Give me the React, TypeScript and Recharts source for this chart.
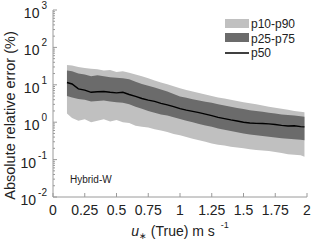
import React from 'react';
import { ComposedChart, Area, Line, XAxis, YAxis } from 'recharts';

const uStar = [0.11, 0.15, 0.2, 0.25, 0.3, 0.35, 0.4, 0.45, 0.5, 0.55, 0.6, 0.65, 0.7, 0.75, 0.8, 0.85, 0.9, 0.95, 1.0, 1.05, 1.1, 1.15, 1.2, 1.25, 1.3, 1.35, 1.4, 1.45, 1.5, 1.55, 1.6, 1.65, 1.7, 1.75, 1.8, 1.85, 1.9, 1.95, 1.98];
const p10 = [1.7, 1.3, 1.1, 1.2, 1.0, 1.1, 1.2, 1.05, 1.15, 1.0, 0.95, 0.8, 0.75, 0.72, 0.65, 0.6, 0.55, 0.48, 0.45, 0.4, 0.36, 0.33, 0.3, 0.27, 0.25, 0.24, 0.22, 0.21, 0.2, 0.19, 0.18, 0.175, 0.17, 0.16, 0.15, 0.14, 0.135, 0.13, 0.12];
const p25 = [5.0, 4.6, 4.2, 4.0, 3.6, 3.7, 3.8, 3.6, 3.4, 3.3, 3.0, 2.6, 2.3, 2.0, 1.8, 1.6, 1.5, 1.35, 1.22, 1.1, 1.0, 0.9, 0.82, 0.75, 0.68, 0.63, 0.58, 0.54, 0.5, 0.47, 0.45, 0.43, 0.41, 0.39, 0.37, 0.36, 0.35, 0.34, 0.33];
const p50 = [11.5, 10.5, 7.8, 7.2, 6.3, 6.5, 6.6, 6.3, 6.1, 6.3, 5.5, 4.9, 4.3, 3.9, 3.6, 3.2, 2.9, 2.6, 2.3, 2.1, 1.95, 1.8, 1.65, 1.5, 1.35, 1.25, 1.15, 1.08, 1.0, 0.95, 0.93, 0.92, 0.9, 0.87, 0.82, 0.79, 0.8, 0.76, 0.75];
const p75 = [24, 23, 20, 19, 17, 18, 17, 16, 15.5, 15, 14, 12, 10.5, 9.5, 8.5, 7.5, 6.6, 5.7, 4.9, 4.5, 4.1, 3.8, 3.5, 3.3, 3.0, 2.8, 2.6, 2.4, 2.25, 2.1, 2.0, 1.9, 1.8, 1.7, 1.6, 1.55, 1.5, 1.45, 1.4];
const p90 = [34, 33, 30, 28, 27, 26, 24, 25, 22, 23, 21, 19, 17, 15, 13, 11.5, 10.3, 9.2, 8.1, 7.3, 6.6, 6.0, 5.5, 5.0, 4.6, 4.3, 4.0, 3.7, 3.4, 3.2, 3.0, 2.8, 2.6, 2.45, 2.3, 2.15, 2.0, 1.9, 1.85];

const xTicks = [0, 0.25, 0.5, 0.75, 1, 1.25, 1.5, 1.75, 2];
const xTickLabels = ['0', '0.25', '0.5', '0.75', '1', '1.25', '1.5', '1.75', '2'];
const yExponents = [-2, -1, 0, 1, 2, 3];
const legendLabels = ['p10-p90', 'p25-p75', 'p50'];
const panelLabel = 'Hybrid-W';
const yLabel = 'Absolute relative error (%)';

const data = uStar.map((u, i) => ({
  u,
  outer: [p10[i], p90[i]],
  inner: [p25[i], p75[i]],
  mid: p50[i],
}));

const yTicks: number[] = [];
yExponents.forEach((e) => {
  for (let m = 1; m <= 9; m++) {
    const v = Number((m * Math.pow(10, e)).toPrecision(3));
    if (v <= 1000) yTicks.push(v);
  }
});

const FONT = '"Liberation Sans", Arial, sans-serif';
const FRAME = '#9a9a9a';
const TEXT = '#222';
const LIGHT = '#c0c0c0';
const DARK = '#6b6b6b';

const W = 312;
const H = 242;
const M = { top: 10, right: 5, bottom: 0, left: 0 };
const YW = 53;
const XH = 45;
const PLOT = { left: M.left + YW, top: M.top, right: W - M.right, bottom: H - XH };

const isMajor = (v: number) => {
  const e = Math.round(Math.log10(v));
  return Math.abs(v - Math.pow(10, e)) < 1e-6 * Math.pow(10, e);
};

const LeftTick = (props: any) => {
  const { x, y, payload } = props;
  const v = payload.value;
  const major = isMajor(v);
  const e = Math.round(Math.log10(v));
  return (
    <g>
      <line x1={x} x2={x + (major ? 4 : 2)} y1={y} y2={y} stroke={FRAME} strokeWidth={1} />
      {major && (
        <text x={x - 6} y={y + 8} textAnchor="end" fontSize={14} fill={TEXT} fontFamily={FONT}>
          10
          <tspan dx={2} dy={-9} fontSize={10}>{String(e)}</tspan>
        </text>
      )}
    </g>
  );
};

const RightTick = (props: any) => {
  const { x, y, payload } = props;
  const major = isMajor(payload.value);
  return <line x1={x} x2={x - (major ? 4 : 2)} y1={y} y2={y} stroke={FRAME} strokeWidth={1} />;
};

const BottomTick = (props: any) => {
  const { x, y, payload, index } = props;
  return (
    <g>
      <line x1={x} x2={x} y1={y} y2={y - 4} stroke={FRAME} strokeWidth={1} />
      <text x={x} y={y + 18} textAnchor="middle" fontSize={14} fill={TEXT} fontFamily={FONT}>
        {xTickLabels[index] ?? String(payload.value)}
      </text>
    </g>
  );
};

const TopTick = (props: any) => {
  const { x, y } = props;
  return <line x1={x} x2={x} y1={y} y2={y + 4} stroke={FRAME} strokeWidth={1} />;
};

export default function App() {
  const lx = PLOT.right - 82;
  const ly = PLOT.top + 9;
  return (
    <div style={{ position: 'absolute', left: 0, top: 0, width: W, height: H, background: '#fff' }}>
      <ComposedChart width={W} height={H} data={data} margin={M}>
        <XAxis
          dataKey="u"
          type="number"
          domain={[0, 2]}
          ticks={xTicks}
          interval={0}
          tickSize={0}
          tickMargin={0}
          tickLine={false}
          tick={<BottomTick />}
          axisLine={{ stroke: FRAME }}
          height={XH}
        />
        <XAxis
          xAxisId="top"
          orientation="top"
          type="number"
          domain={[0, 2]}
          ticks={xTicks}
          interval={0}
          tickSize={0}
          tickMargin={0}
          tickLine={false}
          tick={<TopTick />}
          axisLine={{ stroke: FRAME }}
          height={0}
        />
        <YAxis
          scale="log"
          type="number"
          domain={[0.01, 1000]}
          ticks={yTicks}
          interval={0}
          tickSize={0}
          tickMargin={0}
          tickLine={false}
          tick={<LeftTick />}
          axisLine={{ stroke: FRAME }}
          width={YW}
          allowDataOverflow
        />
        <YAxis
          yAxisId="right"
          orientation="right"
          scale="log"
          type="number"
          domain={[0.01, 1000]}
          ticks={yTicks}
          interval={0}
          tickSize={0}
          tickMargin={0}
          tickLine={false}
          tick={<RightTick />}
          axisLine={{ stroke: FRAME }}
          width={0}
          allowDataOverflow
        />
        <Area
          dataKey="outer"
          type="linear"
          stroke="none"
          fill={LIGHT}
          fillOpacity={1}
          isAnimationActive={false}
        />
        <Area
          dataKey="inner"
          type="linear"
          stroke="none"
          fill={DARK}
          fillOpacity={1}
          isAnimationActive={false}
        />
        <Line
          dataKey="mid"
          type="linear"
          stroke="#000"
          strokeWidth={1.4}
          dot={false}
          isAnimationActive={false}
        />
        <g fontFamily={FONT}>
          <rect x={lx} y={ly} width={24} height={9} fill={LIGHT} />
          <text x={lx + 26} y={ly + 9} fontSize={12} fill={TEXT}>{legendLabels[0]}</text>
          <rect x={lx} y={ly + 14} width={24} height={9} fill={DARK} />
          <text x={lx + 26} y={ly + 23.5} fontSize={12} fill={TEXT}>{legendLabels[1]}</text>
          <line x1={lx} x2={lx + 24} y1={ly + 34} y2={ly + 34} stroke="#000" strokeWidth={1.5} />
          <text x={lx + 26} y={ly + 38} fontSize={12} fill={TEXT}>{legendLabels[2]}</text>
          <text x={PLOT.left + 17} y={PLOT.bottom - 14} fontSize={10} fill={TEXT}>{panelLabel}</text>
          <text
            transform={`translate(15, ${(PLOT.top + PLOT.bottom) / 2 + 12}) rotate(-90)`}
            textAnchor="middle"
            fontSize={14.5}
            fill={TEXT}
          >
            {yLabel}
          </text>
          <text x={(PLOT.left + PLOT.right) / 2} y={H - 6} textAnchor="middle" fontSize={14} fill={TEXT}>
            <tspan fontStyle="italic">u</tspan>
            <tspan fontSize={9} dy={3}>∗</tspan>
            <tspan dy={-3}> (True) m s</tspan>
            <tspan fontSize={9} dx={6} dy={-8}>-1</tspan>
          </text>
        </g>
      </ComposedChart>
    </div>
  );
}
